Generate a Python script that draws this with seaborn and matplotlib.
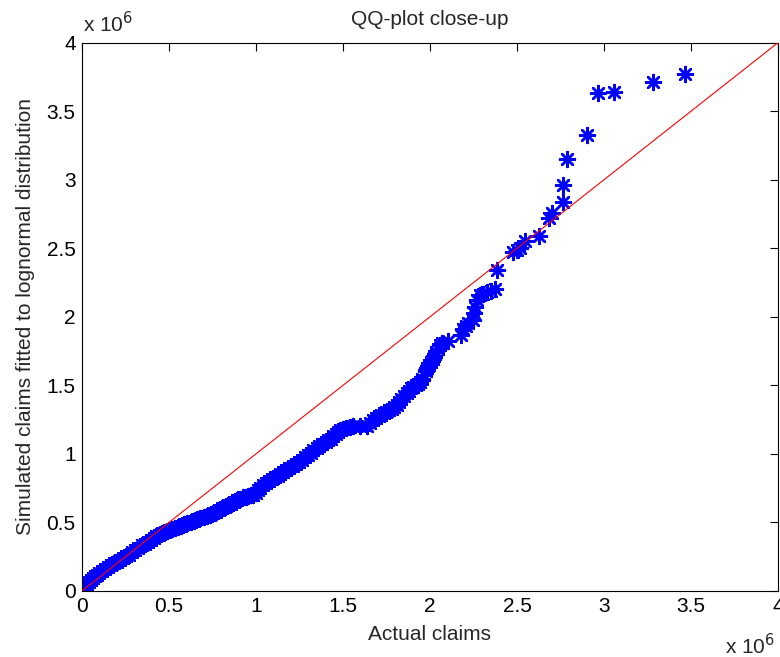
import matplotlib
matplotlib.use("Agg")
import matplotlib.pyplot as plt
import seaborn as sns
import pandas as pd

# Sorted quantiles, in millions (x 10^6)
actual_claims = [
    0.000, 0.005, 0.012, 0.020, 0.030, 0.040, 0.050, 0.062, 0.075, 0.088,
    0.100, 0.115, 0.130, 0.150, 0.168, 0.185, 0.200, 0.220, 0.238, 0.255,
    0.272, 0.290, 0.305, 0.322, 0.343, 0.360, 0.378, 0.395, 0.412, 0.428,
    0.445, 0.462, 0.480, 0.498, 0.515, 0.534, 0.552, 0.570, 0.588, 0.606,
    0.625, 0.643, 0.662, 0.680, 0.700, 0.718, 0.736, 0.755, 0.772, 0.790,
    0.806, 0.822, 0.840, 0.858, 0.875, 0.892, 0.910, 0.925, 0.940, 0.955,
    0.970, 0.985, 0.998, 1.012, 1.025, 1.040, 1.058, 1.075, 1.092, 1.110,
    1.125, 1.140, 1.158, 1.175, 1.192, 1.210, 1.228, 1.245, 1.262, 1.280,
    1.298, 1.315, 1.330, 1.348, 1.365, 1.382, 1.400, 1.415, 1.430, 1.445,
    1.460, 1.472, 1.485, 1.500, 1.520, 1.540, 1.560, 1.600, 1.636, 1.655,
    1.675, 1.690, 1.705, 1.720, 1.735, 1.750, 1.765, 1.780, 1.795, 1.810,
    1.822, 1.835, 1.850, 1.866, 1.880, 1.893, 1.905, 1.918, 1.930, 1.942,
    1.955, 1.965, 1.975, 1.985, 1.995, 2.005, 2.015, 2.025, 2.035, 2.045,
    2.057, 2.070, 2.105, 2.180, 2.190, 2.205, 2.220, 2.249, 2.255, 2.259,
    2.268, 2.287, 2.305, 2.326, 2.350, 2.372, 2.387, 2.479, 2.498, 2.517,
    2.546, 2.628, 2.686, 2.700, 2.766, 2.766, 2.785, 2.904, 2.967, 3.060,
    3.280, 3.466,
]
simulated_claims = [
    0.000, 0.010, 0.022, 0.035, 0.050, 0.064, 0.078, 0.092, 0.106, 0.118,
    0.130, 0.145, 0.158, 0.175, 0.188, 0.202, 0.215, 0.228, 0.240, 0.252,
    0.266, 0.282, 0.296, 0.312, 0.332, 0.346, 0.360, 0.374, 0.388, 0.400,
    0.412, 0.422, 0.432, 0.442, 0.451, 0.460, 0.468, 0.477, 0.486, 0.495,
    0.505, 0.514, 0.522, 0.531, 0.541, 0.549, 0.557, 0.567, 0.578, 0.590,
    0.602, 0.614, 0.626, 0.638, 0.650, 0.661, 0.673, 0.682, 0.688, 0.694,
    0.698, 0.703, 0.716, 0.735, 0.752, 0.770, 0.786, 0.800, 0.814, 0.828,
    0.842, 0.855, 0.868, 0.882, 0.896, 0.912, 0.928, 0.943, 0.958, 0.975,
    0.992, 1.010, 1.028, 1.045, 1.060, 1.074, 1.088, 1.100, 1.112, 1.128,
    1.145, 1.160, 1.172, 1.182, 1.190, 1.196, 1.200, 1.202, 1.206, 1.225,
    1.245, 1.262, 1.274, 1.285, 1.296, 1.308, 1.318, 1.330, 1.344, 1.360,
    1.378, 1.400, 1.422, 1.443, 1.462, 1.478, 1.490, 1.500, 1.510, 1.522,
    1.545, 1.574, 1.602, 1.628, 1.652, 1.672, 1.694, 1.715, 1.740, 1.764,
    1.796, 1.810, 1.822, 1.869, 1.912, 1.932, 1.954, 1.978, 2.030, 2.075,
    2.124, 2.160, 2.170, 2.180, 2.190, 2.200, 2.340, 2.470, 2.488, 2.500,
    2.550, 2.593, 2.720, 2.757, 2.840, 2.960, 3.150, 3.330, 3.630, 3.640,
    3.710, 3.770,
]
ref_line = [0.0, 4.0]
tick_values = [0, 0.5, 1, 1.5, 2, 2.5, 3, 3.5, 4]
tick_labels = ["0", "0.5", "1", "1.5", "2", "2.5", "3", "3.5", "4"]

FS = 15

sns.set_style("white")
plt.rcParams["font.family"] = ["Liberation Sans", "DejaVu Sans"]

fig = plt.figure(figsize=(7.8, 6.57), dpi=100)
ax = fig.add_axes([0.1051, 0.1005, 0.8923, 0.8345])

points = pd.DataFrame({"actual": actual_claims, "simulated": simulated_claims})
sns.scatterplot(data=points, x="actual", y="simulated", ax=ax,
                marker=(8, 2, 0), s=115, color="#0000ff",
                edgecolor="#0000ff", linewidth=1.8, zorder=2, legend=False)
sns.lineplot(x=ref_line, y=ref_line, ax=ax, color="#ff0000", linewidth=0.8,
             zorder=3)

ax.set_xlim(0, 4)
ax.set_ylim(0, 4)
ax.set_xticks(tick_values)
ax.set_yticks(tick_values)
ax.set_xticklabels(tick_labels)
ax.set_yticklabels(tick_labels)
ax.tick_params(direction="in", length=6, width=0.8, colors="black",
               labelsize=FS, top=True, right=True, pad=4.5)
for spine in ax.spines.values():
    spine.set_color("black")
    spine.set_linewidth(0.8)
    spine.set_visible(True)

ax.set_xlabel("Actual claims", fontsize=FS, labelpad=6)
ax.set_ylabel("Simulated claims fitted to lognormal distribution",
              fontsize=FS, labelpad=8)
ax.set_title("QQ-plot close-up", fontsize=FS, pad=13)

fig.text(0.1064, (657 - 32) / 657, "x 10$^6$", fontsize=FS,
         ha="left", va="baseline")
fig.text(0.994, 0.004, "x 10$^6$", fontsize=FS, ha="right", va="baseline")

fig.savefig("out.png", dpi=100, facecolor="white")
